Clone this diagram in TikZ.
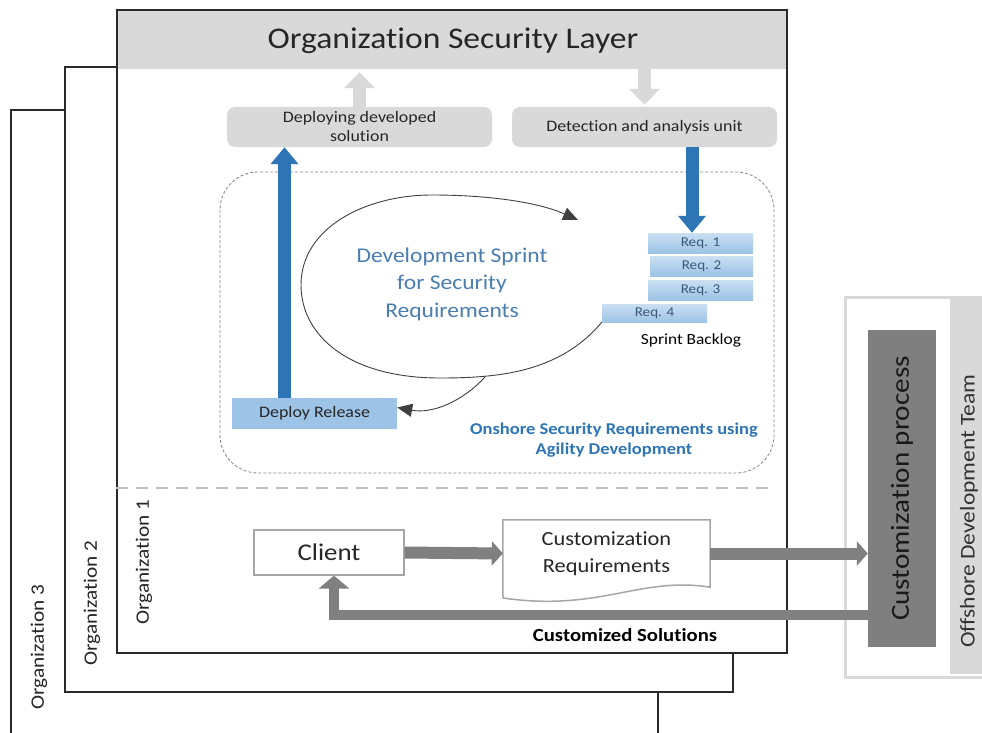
\documentclass[tikz,border=0pt]{standalone}
\usepackage{fontspec}
\setmainfont{Carlito}[FakeStretch=1.12, Ligatures=NoCommon]
\usetikzlibrary{arrows.meta,calc,fit}
\definecolor{bandgray}{HTML}{D9D9D9}
\definecolor{arrgray}{HTML}{808080}
\definecolor{dblue}{HTML}{2E75B6}
\definecolor{sblue}{HTML}{4A7EB0}
\definecolor{reqtext}{HTML}{3A5878}
\definecolor{lblue}{HTML}{9DC3E6}
\definecolor{llblue}{HTML}{C9DFF2}
\definecolor{orgline}{HTML}{2A2A2A}
\definecolor{procgray}{HTML}{7F7F7F}
\definecolor{boxline}{HTML}{A6A6A6}
\definecolor{dashline}{HTML}{7A8799}
\definecolor{sepgray}{HTML}{BFBFBF}
\tikzset{
  orgbox/.style={draw=orgline, line width=1.5pt, fill=white, inner sep=0pt},
  graybox/.style={fill=bandgray, rounded corners=8pt, inner sep=0pt},
  reqbox/.style={inner sep=0pt, top color=llblue, bottom color=lblue},
  reqtxt/.style={text=reqtext, font=\fontsize{13.5}{15}\selectfont, inner sep=0pt},
  lgarrow/.style={draw=bandgray, line width=13pt, -{Triangle[width=30pt,length=16pt]}},
  barrow/.style={draw=dblue, line width=13pt, -{Triangle[width=27pt,length=17pt]}},
  garrow/.style={draw=arrgray, line width=12pt, -{Triangle[width=24pt,length=11pt]}},
  rarrow/.style={draw=arrgray, line width=10pt, -{Triangle[width=30pt,length=13pt]}},
  curvearrow/.style={draw=black!75, line width=0.9pt, -{Triangle[width=13pt,length=15pt]}},
  orglabel/.style={rotate=90, font=\fontsize{19}{22}\selectfont, text=black!85},
}
\begin{document}
\begin{tikzpicture}[x=1pt,y=-1pt]
\useasboundingbox (0,0) rectangle (982,733);
\clip (0,0) rectangle (982,733);
\fill[white] (0,0) rectangle (982,733);

% organization frames
\node[orgbox, fit={(11,110) (658,790)}] (org3) {};
\node[orgbox, fit={(65,67) (733,692)}] (org2) {};
\node[orgbox, fit={(117,10) (787,653)}] (org1) {};
\node[fill=bandgray, inner sep=0pt, fit={(118,11) (786,69)}] (band) {};
\node[font=\fontsize{30}{34}\selectfont, text=black!85] (title) at (453,41) {Organization Security Layer};

\node[orglabel] (o1) at (144,562) {Organization 1};
\node[orglabel] (o2) at (92,603) {Organization 2};
\node[orglabel] (o3) at (39,647) {Organization 3};

% top boxes
\node[graybox, fit={(227,107) (492,147)}] (depsol) {};
\node[align=center, font=\fontsize{16}{19}\selectfont, text=black!85] (depsoltxt) at (depsol.center) {Deploying developed\\solution};
\node[graybox, fit={(512,107) (777,147)}] (detect) {};
\node[font=\fontsize{16}{18}\selectfont, text=black!85] (detecttxt) at (detect.center) {Detection and analysis unit};

\draw[lgarrow, shorten >=3pt] (depsol.north) -- (depsol.north |- band.south);
\draw[lgarrow, shorten >=2pt] (band.south -| detect.north) -- (detect.north);

% agile area
\draw[dashline, dash pattern=on 3pt off 2pt, line width=0.8pt, rounded corners=38pt] (220,172) rectangle (774,473);

\node[fill=lblue, inner sep=0pt, fit={(232,398) (397,429)}] (deprel) {};
\node[font=\fontsize{16}{18}\selectfont, text=black!85] (depreltxt) at (deprel.center) {Deploy Release};

\node[reqbox, fit={(648,233) (753,253)}] (req1) {};
\node[reqbox, fit={(650,256) (753,276)}] (req2) {};
\node[reqbox, fit={(648,280) (753,300)}] (req3) {};
\node[reqbox, fit={(602,304) (707,322)}] (req4) {};
\node[reqtxt] (req1txt) at (req1.center) {Req. 1};
\node[reqtxt] (req2txt) at (req2.center) {Req. 2};
\node[reqtxt] (req3txt) at (req3.center) {Req. 3};
\node[reqtxt] (req4txt) at (req4.center) {Req. 4};
\node[font=\fontsize{15.5}{18}\selectfont] (backlog) at (691,340) {Sprint Backlog};

\draw[barrow] ([xshift=-30pt]deprel.north) -- ([xshift=-30pt]deprel.north |- depsol.south);
\draw[barrow] ([xshift=47.5pt]detect.south) -- ([xshift=47.5pt]detect.south |- req1.north);

\node[align=center, text=sblue, font=\fontsize{21}{27.5}\selectfont] (sprint) at (452,284) {Development Sprint\\for Security\\Requirements};

\draw[curvearrow] (req4.south west) .. controls (560,372) and (500,378) .. (440,378)
   .. controls (348,378) and (301,335) .. (301,285)
   .. controls (301,228) and (365,195) .. (432,195)
   .. controls (492,195) and (540,203) .. (578,220);
\draw[curvearrow] (485,377) .. controls (462,402) and (432,414) .. ([yshift=6pt]deprel.east);

\node[align=center, text=dblue, font=\bfseries\fontsize{16.5}{20.5}\selectfont] (onshore) at (614,440) {Onshore Security Requirements using\\Agility Development};

% separator
\draw[sepgray, line width=2.5pt, dash pattern=on 12pt off 8pt] (org1.west |- 0,488) -- (770,488);

% client area
\node[draw=boxline, line width=1.2pt, fit={(254,530) (404,575)}, inner sep=0pt] (client) {};
\node[font=\fontsize{24}{28}\selectfont, text=black!85] (clienttxt) at (client.center) {Client};
\node[inner sep=0pt, fit={(503,520) (710,587)}] (creq) {};
\draw[boxline, line width=1.5pt] (creq.north west) -- (creq.north east) -- (creq.south east)
   .. controls (640,576) and (600,612) .. (503,598) -- cycle;
\node[align=center, font=\fontsize{20}{27}\selectfont, text=black!85] (creqtxt) at (creq.center) {Customization\\Requirements};

% right panel
\draw[bandgray, line width=3pt, fill=white] (845,297) rectangle (1000,677);
\node[fill=bandgray, inner sep=0pt, fit={(950,297) (1000,674)}] (offstrip) {};
\node[rotate=90, font=\fontsize{21}{24}\selectfont, text=black!80] (offtxt) at (969,511) {Offshore Development Team};
\node[fill=procgray, inner sep=0pt, fit={(868,330) (936,647)}] (proc) {};
\node[rotate=90, font=\fontsize{26}{30}\selectfont, text=black!90] (proctxt) at (proc.center) {Customization process};

\draw[garrow] (client.east) -- (creq.west);
\draw[garrow] (creq.east) -- (creq.east -| proc.west);
\coordinate (rs) at (868,615);
\draw[rarrow] (rs) -| ([xshift=5pt]client.south);
\node[font=\bfseries\fontsize{18.5}{22}\selectfont] (custsol) at (625,635) {Customized Solutions};
\end{tikzpicture}
\end{document}
